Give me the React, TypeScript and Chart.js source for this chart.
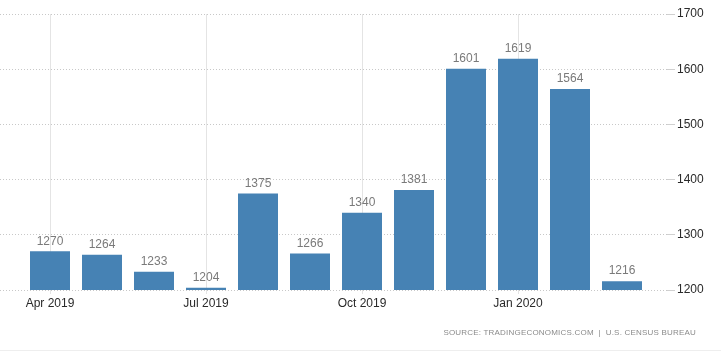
import React, { useEffect, useRef } from "react";
import { Chart, registerables } from "chart.js";

Chart.register(...registerables);

const categories = [
  "Apr 2019", "May 2019", "Jun 2019", "Jul 2019", "Aug 2019", "Sep 2019",
  "Oct 2019", "Nov 2019", "Dec 2019", "Jan 2020", "Feb 2020", "Mar 2020",
];
const values = [1270, 1264, 1233, 1204, 1375, 1266, 1340, 1381, 1601, 1619, 1564, 1216];
const yTicks = [1200, 1300, 1400, 1500, 1600, 1700];
const sourceText = "SOURCE: TRADINGECONOMICS.COM  |  U.S. CENSUS BUREAU";

const FONT = "'Liberation Sans', Arial, sans-serif";

const valueLabels = {
  id: "valueLabels",
  afterDatasetsDraw(chart: any) {
    const ctx = chart.ctx;
    const meta = chart.getDatasetMeta(0);
    ctx.save();
    ctx.font = `12px ${FONT}`;
    ctx.fillStyle = "#7a7a7a";
    ctx.textAlign = "center";
    ctx.textBaseline = "bottom";
    meta.data.forEach((el: any, i: number) => {
      ctx.fillText(String(values[i]), el.x, el.y - 4);
    });
    ctx.restore();
  },
};

export default function App() {
  const ref = useRef<HTMLCanvasElement>(null);
  useEffect(() => {
    if (!ref.current) return;
    const chart = new Chart(ref.current, {
      type: "bar",
      data: {
        datasets: [
          {
            data: values.map((v, i) => ({ x: i, y: v })),
            backgroundColor: "#4682b4",
            borderWidth: 0,
            categoryPercentage: 1,
            barPercentage: 40 / 52,
          },
        ],
      },
      options: {
        animation: false,
        responsive: false,
        maintainAspectRatio: false,
        layout: { padding: { top: 14, left: 0, right: 0, bottom: 0 } },
        plugins: { legend: { display: false }, tooltip: { enabled: false } },
        scales: {
          x: {
            type: "linear",
            position: "bottom",
            offset: false,
            min: -50 / 52,
            max: 617 / 52,
            afterFit: (s: any) => { s.height = 63; },
            border: { display: false },
            grid: {
              offset: false,
              color: "#e4e4e4",
              tickColor: "#e4e4e4",
              tickLength: 4,
              lineWidth: 1,
            },
            ticks: {
              stepSize: 3,
              includeBounds: false,
              autoSkip: false,
              maxRotation: 0,
              padding: 2,
              color: "#2a2a2a",
              font: { family: FONT, size: 12 },
              callback: (v: any) => categories[v] ?? "",
            },
          },
          y: {
            position: "right",
            min: yTicks[0],
            max: yTicks[yTicks.length - 1],
            afterFit: (s: any) => { s.width = 54; },
            border: { display: false, dash: [1, 2] },
            grid: {
              color: "#c8c8c8",
              tickBorderDash: [],
              tickColor: "#d0d0d0",
              tickLength: 8,
            },
            afterBuildTicks: (s: any) => { s.ticks = yTicks.map((v) => ({ value: v })); },
            ticks: {
              padding: 2,
              color: "#2a2a2a",
              font: { family: FONT, size: 12 },
              callback: (v: any) => String(v),
            },
          },
        },
      },
      plugins: [valueLabels],
    });
    return () => chart.destroy();
  }, []);
  return (
    <div style={{ position: "absolute", left: 0, top: 0, width: 721, height: 353, background: "#fff", overflow: "hidden" }}>
      <canvas ref={ref} width={721} height={353} style={{ width: 721, height: 353, display: "block" }} />
      <div
        style={{
          position: "absolute",
          right: 25,
          top: 328,
          fontFamily: FONT,
          fontSize: 8,
          letterSpacing: "0.2px",
          color: "#8a8a8a",
          whiteSpace: "pre",
        }}
      >
        {sourceText}
      </div>
      <div style={{ position: "absolute", left: 0, right: 0, top: 350, borderTop: "1px solid #eeeeee" }} />
    </div>
  );
}
